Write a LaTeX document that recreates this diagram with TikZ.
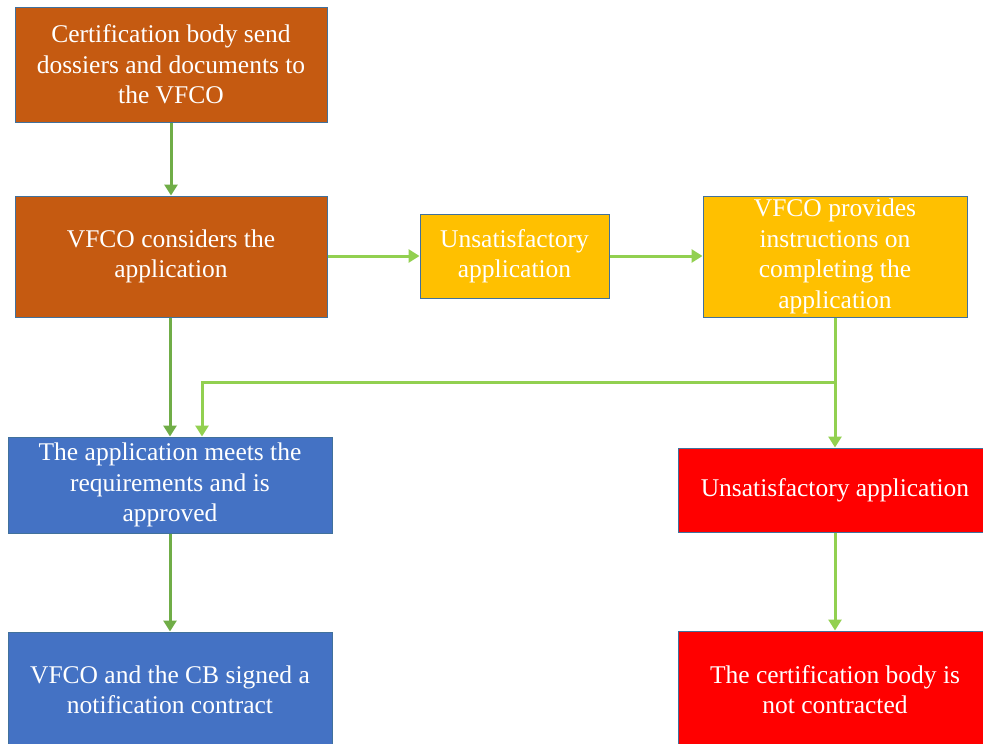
\documentclass[tikz,border=0pt]{standalone}
\usepackage{fontspec}
\setmainfont{Liberation Serif}
\usetikzlibrary{arrows.meta,calc}
\definecolor{cborange}{HTML}{C55A11}
\definecolor{cbyellow}{HTML}{FFC000}
\definecolor{cbblue}{HTML}{4472C4}
\definecolor{cbred}{HTML}{FF0000}
\definecolor{cbedge}{HTML}{41719C}
\definecolor{gdark}{HTML}{70AD47}
\definecolor{glight}{HTML}{92D050}
\tikzset{
  box/.style={draw=cbedge, line width=1pt, inner sep=0pt, text=white, align=center,
    font=\fontsize{25.5}{30.5}\selectfont},
  darrow/.style={draw=gdark, line width=3pt, -{Triangle[width=13pt,length=11pt]}},
  larrow/.style={draw=glight, line width=3pt, -{Triangle[width=13pt,length=11pt]}},
}
\begin{document}
\begin{tikzpicture}[x=1pt,y=-1pt]
\useasboundingbox (0,0) rectangle (983,744);
\clip (0,0) rectangle (983,744);
\node[box, fill=cborange, minimum width=312pt, minimum height=115pt] (b1) at (171,64.5)
  {Certification body send\\dossiers and documents to\\the VFCO};
\node[box, fill=cborange, minimum width=312pt, minimum height=121pt] (b2) at (171,256.5)
  {VFCO considers the\\application};
\node[box, fill=cbyellow, minimum width=189pt, minimum height=84pt] (b3) at (514.5,256)
  {Unsatisfactory\\application};
\node[box, fill=cbyellow, minimum width=264pt, minimum height=121pt] (b4) at (835,256.5)
  {VFCO provides\\instructions on\\completing the\\application};
\node[box, fill=cbblue, minimum width=324pt, minimum height=96pt] (b5) at (170,485)
  {The application meets the\\requirements and is\\approved};
\node[box, fill=cbred, minimum width=314pt, minimum height=84pt] (b6) at (835,490)
  {Unsatisfactory application};
\node[box, fill=cbblue, minimum width=324pt, minimum height=116pt] (b7) at (170,690)
  {VFCO and the CB signed a\\notification contract};
\node[box, fill=cbred, minimum width=314pt, minimum height=117pt] (b8) at (835,689.5)
  {The certification body is\\not contracted};
\coordinate (j) at (835,382);
\draw[darrow] (b1.south) -- (b1.south |- b2.north);
\draw[larrow] (b2.east |- b3.west) -- (b3.west);
\draw[larrow] (b3.east) -- (b4.west |- b3.east);
\draw[darrow] ([xshift=-1pt]b2.south) -- (b5.north);
\draw[larrow] (b4.south) -- (b6.north);
\draw[larrow] (j) -| ([xshift=32pt]b5.north);
\draw[larrow] (b6.south) -- (b8.north);
\draw[darrow] (b5.south) -- (b7.north);
\end{tikzpicture}
\end{document}
